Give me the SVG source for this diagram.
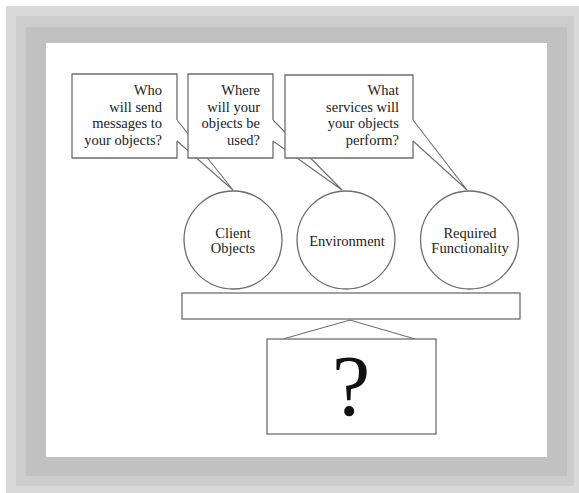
<svg xmlns="http://www.w3.org/2000/svg" width="579" height="493" viewBox="0 0 579 493">
<style>
.bg{fill:#fff;stroke:none}
.box{fill:none;stroke:#6e6e6e;stroke-width:1.3}
.rbox{fill:#fff;stroke:#6e6e6e;stroke-width:1.3}
.tail{fill:#fff;stroke:#6e6e6e;stroke-width:1.1;stroke-linejoin:miter}
.circ{fill:#fff;stroke:#6e6e6e;stroke-width:1.3}
.t{font-family:"Liberation Serif","Times New Roman",serif;font-size:14.5px;fill:#222}
.r{text-anchor:end}
.c{text-anchor:middle}
.q{font-family:"Liberation Serif","Times New Roman",serif;font-size:86px;fill:#111;text-anchor:middle}
</style>
<rect x="0" y="0" width="579" height="493" fill="#ffffff"/>
<g id="frame">
<rect x="6" y="6" width="573" height="487" fill="#d9d9d9"/>
<rect x="16" y="16" width="558" height="470" fill="#cdcdcd"/>
<rect x="26" y="27" width="541" height="449" fill="#c1c1c1"/>
<rect x="46" y="43" width="501" height="414" fill="#ffffff"/>
</g>
<g id="connectors">
<path class="tail" d="M177,120 L233,190 L177,141"/>
<path class="tail" d="M273,120 L342,190 L273,141"/>
<path class="tail" d="M413,120 L467,190 L413,141"/>
<path class="tail" d="M283,339 L350,320 L415,339" fill="none"/>
</g>
<g id="callout-who">
<rect class="bg" x="72" y="74" width="105" height="84"/>
<path class="box" d="M177,120 V74 H72 V158 H177 V141"/>
<text class="t r" x="162" y="95">Who</text>
<text class="t r" x="162" y="111.5">will send</text>
<text class="t r" x="162" y="128">messages to</text>
<text class="t r" x="162" y="144.5">your objects?</text>
</g>
<g id="callout-where">
<rect class="bg" x="188" y="74" width="85" height="84"/>
<path class="box" d="M273,120 V74 H188 V158 H273 V141"/>
<text class="t r" x="260" y="95">Where</text>
<text class="t r" x="260" y="111.5">will your</text>
<text class="t r" x="260" y="128">objects be</text>
<text class="t r" x="260" y="144.5">used?</text>
</g>
<g id="callout-what">
<rect class="bg" x="285" y="75" width="128" height="83"/>
<path class="box" d="M413,120 V75 H285 V158 H413 V141"/>
<text class="t r" x="399" y="95">What</text>
<text class="t r" x="399" y="111.5">services will</text>
<text class="t r" x="399" y="128">your objects</text>
<text class="t r" x="399" y="144.5">perform?</text>
</g>
<g id="client-objects">
<circle class="circ" cx="233" cy="240" r="49"/>
<text class="t c" x="233" y="238">Client</text>
<text class="t c" x="233" y="253">Objects</text>
</g>
<g id="environment">
<circle class="circ" cx="346" cy="240" r="49"/>
<text class="t c" x="347" y="246">Environment</text>
</g>
<g id="required-functionality">
<circle class="circ" cx="469.5" cy="240" r="49"/>
<text class="t c" x="470" y="238">Required</text>
<text class="t c" x="470" y="253">Functionality</text>
</g>
<g id="bar">
<rect class="rbox" x="182" y="293" width="338" height="26"/>
</g>
<g id="unknown">
<rect class="rbox" x="267" y="339" width="169" height="95"/>
<text class="q" x="351" y="415">?</text>
</g>
</svg>
